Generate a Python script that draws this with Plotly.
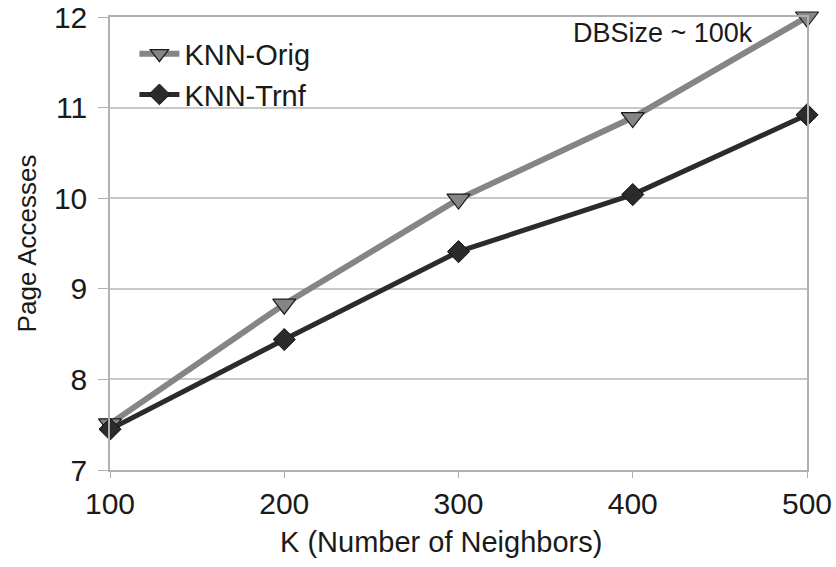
import plotly.graph_objects as go

k_values = [100, 200, 300, 400, 500]
knn_orig = [7.51, 8.83, 9.99, 10.89, 12.0]
knn_trnf = [7.45, 8.44, 9.41, 10.04, 10.92]
y_ticks = [7, 8, 9, 10, 11, 12]

fig = go.Figure()
fig.add_trace(go.Scatter(
    x=k_values, y=knn_orig, name="KNN-Orig", mode="lines+markers",
    cliponaxis=False,
    line=dict(color="#858585", width=6),
    marker=dict(symbol="triangle-down", size=20, color="#858585",
                line=dict(color="#1a1a1a", width=1.2)),
))
fig.add_trace(go.Scatter(
    x=k_values, y=knn_trnf, name="KNN-Trnf", mode="lines+markers",
    cliponaxis=False,
    line=dict(color="#2b2b2b", width=5),
    marker=dict(symbol="diamond", size=17, color="#2b2b2b",
                line=dict(color="#111111", width=1)),
))

# dataset size note in the top-right corner
fig.add_annotation(x=0.925, y=0.965, xref="paper", yref="paper",
                   text="DBSize ~ 100k", showarrow=False,
                   xanchor="right", yanchor="middle",
                   font=dict(family="Liberation Sans", size=27, color="#1a1a1a"))

# x-axis title placed as an annotation below the tick labels
fig.add_annotation(x=0.475, y=-0.16, xref="paper", yref="paper",
                   text="K (Number of Neighbors)", showarrow=False,
                   xanchor="center", yanchor="middle",
                   font=dict(family="Liberation Sans", size=29, color="#1a1a1a"))

fig.update_layout(
    width=836, height=567,
    margin=dict(l=110, r=29, t=17, b=97, autoexpand=False),
    paper_bgcolor="white", plot_bgcolor="white",
    font=dict(family="Liberation Sans", color="#1a1a1a"),
    showlegend=True,
    legend=dict(x=0.035, y=0.975, xanchor="left", yanchor="top",
                bgcolor="rgba(0,0,0,0)", font=dict(size=29), tracegroupgap=0,
                itemwidth=40),
    xaxis=dict(
        range=[100, 500], tickvals=k_values, ticks="outside", ticklen=6,
        tickcolor="#b0b0b0", showgrid=False, showline=True, linecolor="#b0b0b0",
        linewidth=1.5, mirror=True, tickfont=dict(size=30),
        zeroline=False, automargin=False,
    ),
    yaxis=dict(
        range=[7, 12], tickvals=y_ticks, ticks="outside", ticklen=10,
        ticklabelstandoff=5,
        tickcolor="#b0b0b0", showgrid=True, gridcolor="#c8c8c8", gridwidth=1.5,
        showline=True, linecolor="#b0b0b0", linewidth=1.5, mirror=True,
        tickfont=dict(size=30),
        title=dict(text="Page Accesses", font=dict(size=26), standoff=10),
        zeroline=False, automargin=False,
    ),
)

fig.write_html("out.html")
